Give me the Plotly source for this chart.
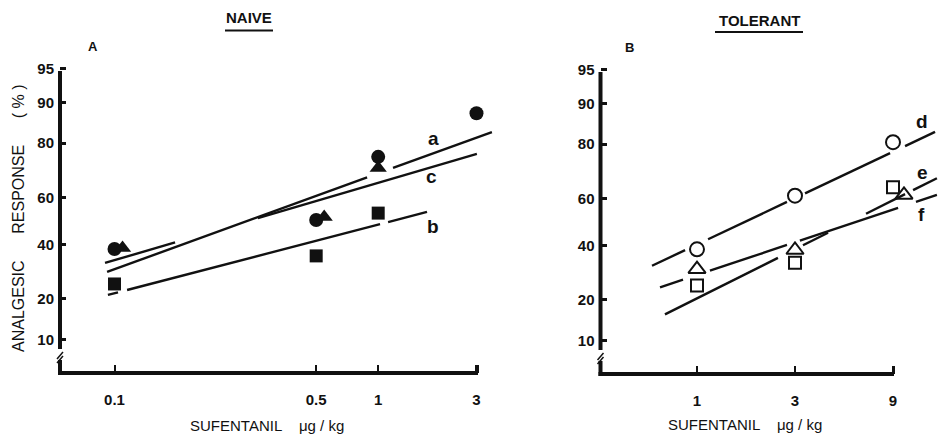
import math
from statistics import NormalDist
import plotly.graph_objects as go

W, H = 938, 437

# ---------------- data ----------------
y_ticks_pct = [10, 20, 40, 60, 80, 90, 95]

# Panel A (naive): dose tick labels and their positions on the log-dose axis
doses_A = [0.1, 0.5, 1, 3]
dose_labels_A = ["0.1", "0.5", "1", "3"]
dose_pos_A = [-1.28, math.log10(0.5), 0.0, math.log10(3)]

circle_A = [38.1, 50.4, 75.6, 87.8]      # filled circles at 0.1, 0.5, 1, 3
triangle_A = [38.5, 51.7, 71.7]          # filled triangles at 0.1, 0.5, 1
triangle_A_doses = [0.1, 0.5, 1]
square_A = [24.8, 35.3, 53.4]            # filled squares at 0.1, 0.5, 1
square_A_doses = [0.1, 0.5, 1]

# Panel B (tolerant)
doses_B = [1, 3, 9]
dose_labels_B = ["1", "3", "9"]
dose_pos_B = [math.log10(d) for d in doses_B]
circle_B = [38.4, 61.2, 80.6]
triangle_B = [30.5, 38.1, 61.5]
square_B = [24.6, 33.0, 64.6]

# fitted probit lines: (axis position start, % start, axis position end, % end)
lines_A = {
    "a": (-1.316, 29.1, 0.552, 83.2),
    "c": (-1.326, 32.5, 0.479, 76.6),
    "b": (-1.312, 21.2, 0.237, 53.9),
}
lines_B = {
    "d": (-0.219, 31.8, 1.159, 83.5),
    "e": (-0.156, 15.9, 1.168, 68.2),
    "f": (-0.180, 24.0, 1.168, 61.5),
}
# drawn pieces of each line (hand-drawn gaps around the symbols)
pieces = {
    "a": [(-1.316, -0.054), (0.072, 0.552)],
    "c": [(-1.326, -0.986), (-0.584, 0.479)],
    "b": [(-1.312, -1.263), (-1.219, 0.009), (0.048, 0.237)],
    "d": [(-0.219, -0.058), (0.054, 0.438), (0.526, 0.940), (1.013, 1.159)],
    "e": [(-0.156, 0.394), (0.516, 0.638), (0.823, 1.013), (1.052, 1.168)],
    "f": [(-0.180, -0.068), (0.063, 0.438), (0.501, 0.979), (1.066, 1.168)],
}

# ---------------- helpers ----------------
ND = NormalDist()


def probit(pct):
    return ND.inv_cdf(pct / 100.0)


def px(x):
    return x / W


def py(y):
    return 1 - y / H


# pixel geometry of the two panels
A_left, A_right, A_top, A_bot = 60, 500, 60, 373
B_left, B_right, B_top, B_bot = 600.5, 938, 61, 374
kA, u0A = 206.0, 378.2
kB, u0B = 205.4, 697.0
kY = 92.5
cA, cB = 221.0, 222.0

xrA = [(A_left - u0A) / kA, (A_right - u0A) / kA]
xrB = [(B_left - u0B) / kB, (B_right - u0B) / kB]
yrA = [(cA - A_bot) / kY, (cA - A_top) / kY]
yrB = [(cB - B_bot) / kY, (cB - B_top) / kY]

fig = go.Figure()

BLK = "#111111"


def add_line(name, spec, xa, ya):
    u1, p1, u2, p2 = spec
    z1, z2 = probit(p1), probit(p2)
    xs, ys = [], []
    for s, e in pieces[name]:
        for u in (s, e):
            xs.append(u)
            ys.append(z1 + (z2 - z1) * (u - u1) / (u2 - u1))
        xs.append(None)
        ys.append(None)
    fig.add_trace(go.Scatter(x=xs, y=ys, mode="lines", xaxis=xa, yaxis=ya,
                             line=dict(color=BLK, width=2.4), hoverinfo="skip",
                             showlegend=False))


for n, s in lines_A.items():
    add_line(n, s, "x", "y")
for n, s in lines_B.items():
    add_line(n, s, "x2", "y2")

posA = dict(zip(doses_A, dose_pos_A))
posB = dict(zip(doses_B, dose_pos_B))


def jitter(doses, vals, others, pos, k, shift):
    """shift a symbol right when it would sit on top of another symbol"""
    out = []
    for d, v in zip(doses, vals):
        u = pos[d]
        for od, ov in others:
            if od == d and abs(probit(v) - probit(ov)) * kY < 10:
                u += shift / k
                break
        out.append(u)
    return out


# Panel A markers
fig.add_trace(go.Scatter(x=[posA[d] for d in doses_A], y=[probit(v) for v in circle_A],
                         mode="markers", marker=dict(symbol="circle", size=14, color=BLK),
                         showlegend=False))
fig.add_trace(go.Scatter(x=[posA[d] for d in square_A_doses], y=[probit(v) for v in square_A],
                         mode="markers", marker=dict(symbol="square", size=13, color=BLK),
                         showlegend=False))
fig.add_trace(go.Scatter(
    x=jitter(triangle_A_doses, triangle_A, list(zip(doses_A, circle_A)), posA, kA, 8),
    y=[probit(v) for v in triangle_A], mode="markers",
    marker=dict(symbol="triangle-up", size=15, color=BLK), showlegend=False))

# Panel B markers
open_line = dict(color=BLK, width=2)
fig.add_trace(go.Scatter(x=dose_pos_B, y=[probit(v) for v in circle_B], xaxis="x2", yaxis="y2",
                         mode="markers",
                         marker=dict(symbol="circle-open", size=14, color=BLK, line=open_line),
                         showlegend=False))
fig.add_trace(go.Scatter(x=dose_pos_B, y=[probit(v) for v in square_B], xaxis="x2", yaxis="y2",
                         mode="markers",
                         marker=dict(symbol="square-open", size=12, color=BLK, line=open_line),
                         showlegend=False))
fig.add_trace(go.Scatter(
    x=jitter(doses_B, triangle_B, list(zip(doses_B, square_B)), posB, kB, 11),
    y=[probit(v) for v in triangle_B], xaxis="x2", yaxis="y2", mode="markers",
    marker=dict(symbol="triangle-up-open", size=15, color=BLK, line=open_line),
    showlegend=False))

tickfont = dict(family="Liberation Sans, Arial, sans-serif", size=15, color=BLK, weight="bold")
common_x = dict(showgrid=False, zeroline=False, showline=False, ticks="inside", ticklen=8,
                tickwidth=2, tickcolor=BLK, tickfont=tickfont, ticklabelstandoff=16)
common_y = dict(showgrid=False, zeroline=False, showline=False, ticks="inside", ticklen=6,
                tickwidth=2.5, tickcolor=BLK, tickfont=tickfont, ticklabelstandoff=5,
                tickvals=[probit(v) for v in y_ticks_pct],
                ticktext=[str(v) for v in y_ticks_pct])

fig.update_layout(
    width=W, height=H, margin=dict(l=0, r=0, t=0, b=0), autosize=False,
    paper_bgcolor="white", plot_bgcolor="white",
    xaxis=dict(domain=[px(A_left), px(A_right)], range=xrA, tickvals=dose_pos_A,
               ticktext=dose_labels_A, anchor="y", **common_x),
    yaxis=dict(domain=[py(A_bot), py(A_top)], range=yrA, anchor="x", **common_y),
    xaxis2=dict(domain=[px(B_left), px(B_right)], range=xrB, tickvals=dose_pos_B,
                ticktext=dose_labels_B, anchor="y2", **common_x),
    yaxis2=dict(domain=[py(B_bot), py(B_top)], range=yrB, anchor="x2", **common_y),
)

shapes = []


def seg(x0, y0, x1, y1, w=4):
    shapes.append(dict(type="line", xref="paper", yref="paper", x0=px(x0), y0=py(y0),
                       x1=px(x1), y1=py(y1), line=dict(color=BLK, width=w)))


# axis lines with break marks
for (xl, xe, yb, yt) in [(A_left, 478, A_bot, 71), (B_left, 894, B_bot, 72)]:
    seg(xl - 2, yb, xe, yb, 4)           # x axis
    seg(xl, yb + 2, xl, yb - 13, 4)      # y axis below break
    seg(xl, yb - 24, xl, yt, 4)          # y axis above break
    seg(xl - 3, yb - 14, xl + 3, yb - 21, 1.5)
    seg(xl - 3, yb - 10, xl + 3, yb - 17, 1.5)
    seg(xe, yb, xe, yb - 8, 2)           # end tick

# underlines of panel titles
seg(225, 30.5, 273, 30.5, 2)
seg(715, 32, 803, 32, 2)
fig.update_layout(shapes=shapes)

ann = []


def text(x, y, s, size=14, bold=False, angle=0):
    ann.append(dict(x=px(x), y=py(y), xref="paper", yref="paper", text=s, showarrow=False,
                    textangle=angle, xanchor="center", yanchor="middle",
                    font=dict(family="Liberation Sans, Arial, sans-serif", size=size,
                              color=BLK, weight="bold" if bold else "normal")))


text(249, 18, "NAIVE", 15, True)
text(759, 21, "TOLERANT", 15, True)
text(93, 47, "A", 13, True)
text(629, 48, "B", 13, True)
text(433, 138, "a", 19, True)
text(431, 176, "c", 19, True)
text(433, 226, "b", 19, True)
text(922, 121, "d", 19, True)
text(922, 173, "e", 19, True)
text(921, 214, "f", 19, True)
nb = "\u00a0"
text(19, 218, "ANALGESIC" + nb * 6 + "RESPONSE" + nb * 6 + "(" + nb + "%" + nb + ")", 16, False, -90)
text(267, 425, "SUFENTANIL" + nb * 4 + "\u03bcg / kg", 15)
text(745, 424, "SUFENTANIL" + nb * 4 + "\u03bcg / kg", 15)
fig.update_layout(annotations=ann)

fig.write_html("out.html", config={"displayModeBar": False},
               post_script="document.body.style.margin='0';document.body.style.overflow='hidden';")
